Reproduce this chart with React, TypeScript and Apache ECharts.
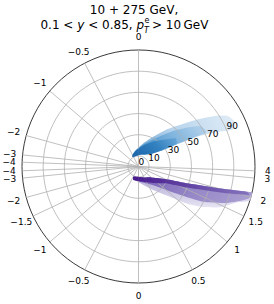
import React, { useEffect, useRef } from "react";
import * as echarts from "echarts";

// ---- axes / grid definitions ----
const R_MAX = 110;
const RADIAL_GRID = [10, 30, 50, 70, 90];
const RADIAL_LABELS = [0, 10, 30, 50, 70, 90];
const RLABEL_ANGLE = 22.5;
const ETA_LOWER = [4, 3, 2, 1.5, 1, 0.5, 0, -0.5, -1, -1.5, -2, -3, -4];
const ETA_UPPER = [0, -0.5, -1, -2, -3, -4];

// ---- data envelopes: [radius (GeV), display angle (deg, CCW from +x)] ----
const BLUE_CLOUD: [number, number][] = [
  [10.5, 122], [11.5, 80], [14, 55], [18, 43], [25, 35.5], [35, 31.5], [45, 29.5],
  [62, 27], [80, 24], [96, 21.5], [100, 25], [97, 29.5], [88, 33], [74, 37.5],
  [60, 43], [45, 52], [32, 63], [22, 79], [16, 98], [12.5, 118],
];
const BLUE_MID: [number, number][] = [
  [10.5, 122], [11.5, 80], [14, 55], [18, 43], [25, 35.5], [35, 31.5], [45, 29.5],
  [62, 27.5], [72, 27], [70, 33], [58, 39], [45, 47], [32, 58], [22, 75],
  [16, 96], [12.5, 118],
];
const BLUE_CORE: [number, number][] = [
  [10.5, 122], [11.5, 80], [14, 55], [18, 43], [25, 36], [35, 32], [42, 31],
  [44, 37], [36, 45], [28, 58], [20, 78], [15, 100], [12, 118],
];
const PURPLE_CLOUD: [number, number][] = [
  [10.8, 243], [11.5, 295], [14, 314], [18, 324], [30, 336], [50, 341.2],
  [80, 345], [105, 346.9], [110, 347.1], [110, 343], [98.5, 339.8],
  [85.8, 333.4], [71.8, 327.8], [57.3, 322.4], [41.2, 316], [26.2, 302],
  [13.2, 255.5],
];
const PURPLE_MID: [number, number][] = [
  [10.8, 243], [11.5, 295], [14, 314], [18, 324], [30, 336], [50, 341.2],
  [80, 345], [105, 346.9], [110, 347.1], [108, 343.6], [90, 337.5], [70, 331.5],
  [50, 326.5], [35, 320], [22, 307], [13.5, 252],
];
const PURPLE_CORE: [number, number][] = [
  [10.8, 243], [11.5, 295], [14, 314], [18, 324], [30, 336], [50, 341.2],
  [80, 345], [105, 346.9], [108, 345.6], [81, 342.3], [50, 336.5],
  [30, 328], [21.1, 312], [13.7, 249],
];

const FONT = '"DejaVu Sans", sans-serif';

function etaToTheta(eta: number): number {
  return (2 * Math.atan(Math.exp(-eta)) * 180) / Math.PI;
}
function etaText(eta: number): string {
  return eta < 0 ? "\u2212" + String(-eta) : String(eta);
}

const SPOKES = [
  ...ETA_LOWER.map((e) => ({ angle: 360 - etaToTheta(e), label: etaText(e) })),
  ...ETA_UPPER.map((e) => ({ angle: etaToTheta(e), label: etaText(e) })),
];

function polygonSeries(points: [number, number][], fill: any, z: number, opacity = 1) {
  return {
    type: "custom",
    coordinateSystem: "polar",
    z,
    silent: true,
    data: points,
    renderItem: (params: any, api: any) => {
      if (params.dataIndex !== 0) return null;
      const pts = points.map((p) => api.coord(p).slice(0, 2));
      return {
        type: "polygon",
        shape: { points: pts, smooth: 0.2 },
        style: { fill, opacity },
      };
    },
  };
}

export default function App() {
  const ref = useRef<HTMLDivElement>(null);
  useEffect(() => {
    document.body.style.margin = "0";
    const chart = echarts.init(ref.current!, undefined, { renderer: "svg" });
    const blueGrad = new echarts.graphic.LinearGradient(0, 0.6, 1, 0.4, [
      { offset: 0, color: "#4f95cc" },
      { offset: 0.4, color: "#a9cbe8" },
      { offset: 1, color: "#d6e6f4" },
    ]);
    const blueMidGrad = new echarts.graphic.LinearGradient(0, 0.7, 1, 0.3, [
      { offset: 0, color: "#3383c3" },
      { offset: 0.5, color: "#6aa8d8" },
      { offset: 1, color: "#a8cbe8" },
    ]);
    const blueCoreGrad = new echarts.graphic.LinearGradient(0, 0.7, 1, 0.3, [
      { offset: 0, color: "#1b65aa" },
      { offset: 0.6, color: "#2f7fbf" },
      { offset: 1, color: "#5c9fd3" },
    ]);
    const purpleGrad = new echarts.graphic.LinearGradient(0, 0, 0, 1, [
      { offset: 0, color: "#a89fd0" },
      { offset: 0.6, color: "#c9c3e3" },
      { offset: 1, color: "#e2dff1" },
    ]);
    const purpleMidGrad = new echarts.graphic.LinearGradient(0, 0, 1, 0, [
      { offset: 0, color: "#6a4fae" },
      { offset: 0.5, color: "#8c7cc2" },
      { offset: 1, color: "#a397cd" },
    ]);
    const purpleCoreGrad = new echarts.graphic.LinearGradient(0, 0, 1, 0, [
      { offset: 0, color: "#3f0f86" },
      { offset: 0.4, color: "#54329a" },
      { offset: 1, color: "#7e6cbb" },
    ]);

    chart.setOption({
      animation: false,
      polar: { center: [138.5, 166.5], radius: 116.5 },
      angleAxis: {
        type: "value",
        min: 0,
        max: 360,
        startAngle: 0,
        clockwise: false,
        axisLine: { show: true, lineStyle: { color: "#222", width: 0.9 } },
        axisTick: { show: false },
        axisLabel: { show: false },
        splitLine: { show: false },
      },
      radiusAxis: {
        type: "value",
        min: 0,
        max: R_MAX,
        axisLine: { show: false },
        axisTick: { show: false },
        axisLabel: { show: false },
        splitLine: { show: false },
      },
      graphic: [
        {
          type: "text",
          x: 134,
          y: 9.5,
          style: {
            text: "10 + 275 GeV,",
            font: `12px ${FONT}`,
            fill: "#000",
            align: "center",
            verticalAlign: "middle",
          },
        },
        {
          type: "text",
          x: 144,
          y: 25,
          style: {
            text: "0.1 < {i|y} < 0.85, {i|p}",
            fontSize: 12,
            fontFamily: FONT,
            fill: "#000",
            align: "right",
            verticalAlign: "middle",
            rich: {
              i: { fontStyle: "italic", fontSize: 12, fontFamily: FONT, fill: "#000" },
            },
          },
        },
        {
          type: "text",
          x: 144.5,
          y: 24.5,
          style: { text: "e", font: `8px ${FONT}`, fill: "#000", align: "left", verticalAlign: "bottom" },
        },
        {
          type: "text",
          x: 144,
          y: 26,
          style: { text: "T", font: `italic 8px ${FONT}`, fill: "#000", align: "left", verticalAlign: "top" },
        },
        {
          type: "text",
          x: 152,
          y: 25,
          style: {
            text: "> 10\u2009GeV",
            font: `12px ${FONT}`,
            fill: "#000",
            align: "left",
            verticalAlign: "middle",
          },
        },
      ],
      series: [
        polygonSeries(BLUE_CLOUD, blueGrad, 1, 0.85),
        polygonSeries(PURPLE_CLOUD, purpleGrad, 1, 0.85),
        polygonSeries(BLUE_MID, blueMidGrad, 1, 0.85),
        polygonSeries(PURPLE_MID, purpleMidGrad, 1, 0.85),
        {
          type: "custom",
          coordinateSystem: "polar",
          z: 2,
          silent: true,
          data: RADIAL_GRID.map((r) => [r, 0]),
          renderItem: (_p: any, api: any) => {
            const c = api.coord([0, 0]);
            const p = api.coord([api.value(0), 0]);
            const rad = Math.hypot(p[0] - c[0], p[1] - c[1]);
            return {
              type: "circle",
              shape: { cx: c[0], cy: c[1], r: rad },
              style: { fill: "none", stroke: "#b0b0b0", lineWidth: 0.8 },
            };
          },
        },
        {
          type: "custom",
          coordinateSystem: "polar",
          z: 2,
          silent: true,
          data: SPOKES.map((s) => [R_MAX, s.angle]),
          renderItem: (params: any, api: any) => {
            const a = api.value(1);
            const c = api.coord([0, a]);
            const p = api.coord([R_MAX, a]);
            const dx = p[0] - c[0];
            const dy = p[1] - c[1];
            const len = Math.hypot(dx, dy);
            const ux = dx / len;
            const uy = dy / len;
            return {
              type: "group",
              children: [
                {
                  type: "line",
                  shape: { x1: c[0], y1: c[1], x2: p[0], y2: p[1] },
                  style: { stroke: "#b0b0b0", lineWidth: 0.8 },
                },
                {
                  type: "text",
                  x: p[0] + ux * 13,
                  y: p[1] + uy * 13,
                  style: {
                    text: SPOKES[params.dataIndex].label,
                    font: `9px ${FONT}`,
                    fill: "#000",
                    align: "center",
                    verticalAlign: "middle",
                  },
                },
              ],
            };
          },
        },
        polygonSeries(BLUE_CORE, blueCoreGrad, 3, 0.9),
        polygonSeries(PURPLE_CORE, purpleCoreGrad, 3, 0.85),
        {
          type: "custom",
          coordinateSystem: "polar",
          z: 4,
          silent: true,
          data: RADIAL_LABELS.map((r) => [r, RLABEL_ANGLE]),
          renderItem: (params: any, api: any) => {
            const p = api.coord([api.value(0), api.value(1)]);
            return {
              type: "text",
              x: p[0],
              y: p[1],
              style: {
                text: String(RADIAL_LABELS[params.dataIndex]),
                font: `9px ${FONT}`,
                fill: "#000",
                align: "left",
                verticalAlign: "bottom",
              },
            };
          },
        },
      ],
    });
    return () => chart.dispose();
  }, []);
  return <div ref={ref} style={{ width: 274, height: 304, position: "absolute", left: 0, top: 0 }} />;
}
